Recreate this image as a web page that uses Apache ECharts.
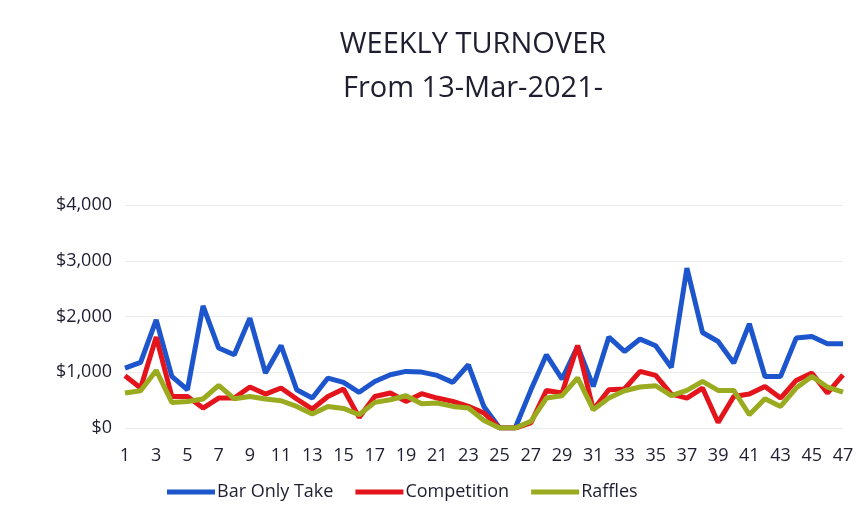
<!DOCTYPE html>
<html>
<head>
<meta charset="utf-8">
<script src="https://cdn.jsdelivr.net/npm/echarts@6/dist/echarts.min.js"></script>
<style>
  html, body { margin: 0; padding: 0; background: #fff; }
  #chart { width: 862px; height: 522px; }
</style>
</head>
<body>
<div id="chart"></div>
<script>
// weeks 1..47
var weeks = [];
for (var i = 1; i <= 47; i++) { weeks.push(String(i)); }

var barOnlyTake = [1075, 1176, 1940, 925, 686, 2190, 1434, 1313, 1971, 985,
    1480, 686, 537, 896, 817, 640, 835, 955, 1015, 1003,
    943, 818, 1134, 380, 0, 0, 680, 1313, 878, 1463,
    746, 1631, 1373, 1595, 1475, 1086, 2867, 1713, 1552, 1165,
    1869, 925, 925, 1613, 1642, 1511, 1511];

var competition = [937, 717, 1631, 566, 566, 358, 537, 537, 735, 609,
    717, 520, 340, 566, 699, 190, 566, 627, 477, 615,
    537, 477, 387, 269, 0, 0, 90, 674, 627, 1481,
    328, 686, 699, 1015, 943, 609, 537, 717, 100, 566,
    609, 746, 537, 854, 985, 627, 955];

var raffles = [627, 668, 1032, 459, 477, 520, 763, 525, 566, 520,
    489, 387, 251, 387, 351, 238, 459, 507, 579, 436,
    448, 387, 358, 136, 0, 0, 118, 537, 579, 900,
    328, 537, 668, 735, 758, 579, 674, 835, 674, 674,
    238, 525, 387, 717, 925, 735, 645];

var seriesNames = ['Bar Only Take', 'Competition', 'Raffles'];
var seriesColors = ['#1d56cc', '#e3141c', '#9aab1f'];

var chart = echarts.init(document.getElementById('chart'));

function lineSeries(name, data, color) {
    return {
        name: name,
        type: 'line',
        data: data,
        symbol: 'none',
        lineStyle: { width: 5, color: color },
        itemStyle: { color: color }
    };
}

chart.setOption({
    backgroundColor: '#fff',
    textStyle: { fontFamily: 'Open Sans' },
    title: {
        text: 'WEEKLY TURNOVER\nFrom 13-Mar-2021-',
        left: 468,
        top: 18,
        textAlign: 'center',
        textStyle: {
            fontFamily: 'Open Sans',
            fontSize: 29,
            fontWeight: 'normal',
            color: '#1e1e30',
            lineHeight: 44
        }
    },
    legend: {
        data: seriesNames,
        top: 478,
        left: 162,
        icon: 'rect',
        itemWidth: 48,
        itemHeight: 5,
        itemGap: 22,
        textStyle: { fontSize: 18, color: '#1e1e30', padding: [0, 0, 0, -3] }
    },
    grid: {
        left: 125,
        right: 19,
        top: 205,
        bottom: 94
    },
    xAxis: {
        type: 'category',
        data: weeks,
        boundaryGap: false,
        axisLine: { show: false },
        axisTick: { show: false },
        axisLabel: {
            interval: 1,
            fontSize: 18,
            color: '#1e1e30',
            margin: 19
        }
    },
    yAxis: {
        type: 'value',
        min: 0,
        max: 4000,
        interval: 1000,
        axisLine: { show: false },
        axisTick: { show: false },
        splitLine: { lineStyle: { color: '#ececec', width: 1 } },
        axisLabel: {
            fontSize: 18,
            color: '#1e1e30',
            margin: 13,
            formatter: function (v) {
                return '$' + v.toLocaleString('en-US');
            }
        }
    },
    series: [
        lineSeries(seriesNames[0], barOnlyTake, seriesColors[0]),
        lineSeries(seriesNames[1], competition, seriesColors[1]),
        lineSeries(seriesNames[2], raffles, seriesColors[2])
    ]
});
</script>
</body>
</html>
